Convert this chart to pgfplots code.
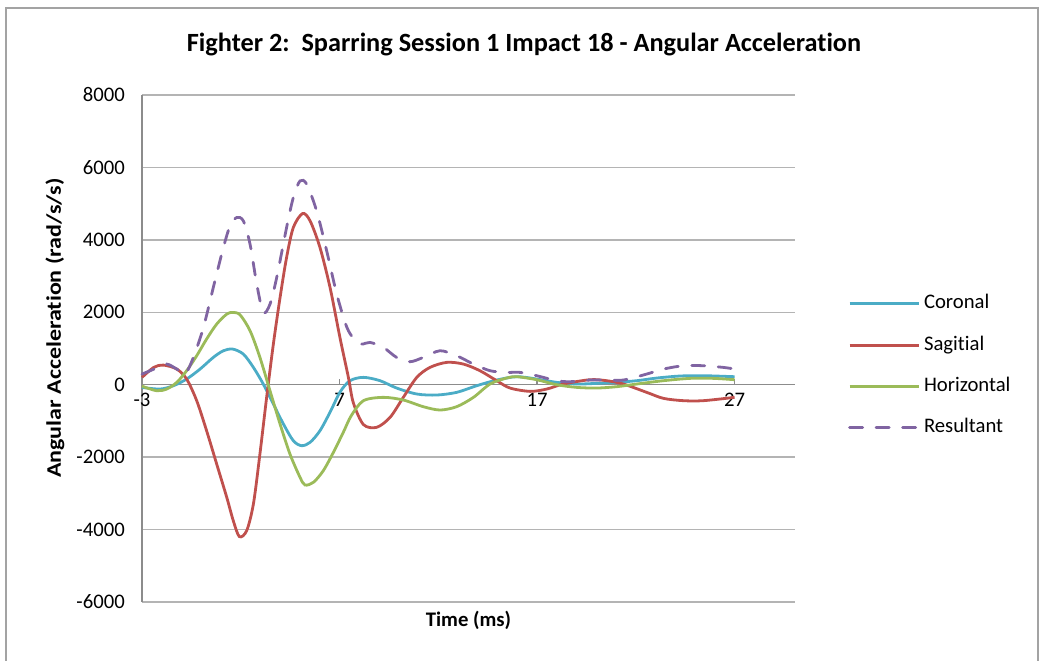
\documentclass[border=0pt]{standalone}
\usepackage{pgfplots}
\pgfplotsset{compat=1.18}
\usepackage{fontspec}
\setmainfont{Carlito}[Ligatures=NoCommon]
\definecolor{cor}{HTML}{4BACC6}
\definecolor{sag}{HTML}{C0504D}
\definecolor{hor}{HTML}{9BBB59}
\definecolor{res}{HTML}{8064A2}
\definecolor{gridc}{HTML}{B4B4B4}
\definecolor{axc}{HTML}{8C8C8C}
\newcommand{\lbl}{\fontsize{20.7bp}{24bp}\selectfont}
\begin{document}
\begin{tikzpicture}[x=1bp,y=1bp]
\useasboundingbox (0,0) rectangle (1040,661);
\draw[axc!80, line width=1.5bp] (6,0) -- (6,653) -- (1038,653) -- (1038,0);
\node[font=\fontsize{26.3bp}{30bp}\selectfont\bfseries] at (524,616) {Fighter 2:\ \ Sparring Session 1 Impact 18 - Angular Acceleration};
\begin{axis}[
  at={(142bp,59bp)}, anchor=south west,
  scale only axis, width=653bp, height=507bp,
  xmin=-3, xmax=30.06, ymin=-6000, ymax=8000,
  axis x line*=middle, axis y line*=left,
  hide obscured x ticks=false,
  axis line style={axc, line width=1.5bp},
  xtick={-3,7,17,27}, xticklabels={-3,7,17,27},
  ytick={-6000,-4000,-2000,0,2000,4000,6000,8000},
  yticklabels={-6000,-4000,-2000,0,2000,4000,6000,8000},
  scaled y ticks=false,
  ymajorgrids, grid style={gridc, line width=1.3bp},
  major tick length=6bp, tick align=center,
  xtick style={axc, line width=1.3bp, yshift=3bp},
  ytick style={draw=none},
  ticklabel style={font=\lbl},
  yticklabel style={inner sep=0pt, xshift=-14bp},
  xticklabel style={inner sep=0pt, yshift=-5bp},
  xlabel={Time (ms)}, ylabel={\scalebox{1.16}[1]{Angular Acceleration (rad/s/s)}},
  label style={font=\lbl\bfseries},
  xlabel style={at={(axis description cs:0.5,-0.0355)}, anchor=center},
  ylabel style={at={(axis description cs:-0.1332,0.54)}, anchor=center},
  legend style={draw=none, fill=none, inner sep=0pt, font=\lbl,
    at={(axis description cs:1.0812,0.6081)}, anchor=north west,
    row sep=21.3bp, column sep=4bp,
    nodes={inner sep=0pt, text height=15bp, text depth=5bp}},
  legend cell align=left,
  legend image code/.code={\draw[#1] (0bp,0bp) -- (69bp,0bp);},
  clip=false,
]
\addplot[cor, line width=2.8bp, smooth] coordinates {
(-3,-74) (-2.09,-120) (-1.41,-28) (-0.74,156) (-0.06,432) (0.61,754) (1.12,938) (1.59,984) (2.13,846) (2.64,478) (3.14,18) (3.65,-534) (4.16,-1086) (4.66,-1546) (5.08,-1684) (5.51,-1592) (6.01,-1270) (6.52,-760) (7.03,-200) (7.53,111) (8.21,203) (9.05,111) (9.89,-92) (10.91,-257) (11.92,-285) (12.93,-211) (13.95,-27) (14.96,129) (15.97,221) (16.98,157) (17.99,65) (19.01,19) (20.02,37) (21.03,65) (22.05,111) (23.06,184) (24.24,240) (25.42,249) (27.0,221)
};
\addlegendentry{Coronal}
\addplot[sag, line width=2.8bp, smooth] coordinates {
(-3,202) (-2.4,480) (-1.92,542) (-1.24,432) (-0.74,156) (-0.23,-442) (0.27,-1270) (0.78,-2189) (1.29,-3109) (1.62,-3753) (1.93,-4194) (2.30,-4029) (2.64,-3293) (2.97,-1913) (3.31,-350) (3.65,1121) (3.99,2409) (4.32,3513) (4.66,4340) (5.13,4727) (5.51,4524) (6.01,3789) (6.52,2685) (7.02,1305) (7.45,200) (7.70,-500) (8.21,-1100) (8.88,-1177) (9.56,-901) (10.23,-349) (10.91,202) (11.58,478) (12.43,617) (13.27,570) (14.11,386) (14.96,110) (15.63,-92) (16.65,-184) (17.49,-120) (18.33,19) (19.68,138) (20.53,110) (21.37,19) (22.55,-211) (23.40,-377) (24.41,-441) (25.42,-441) (27.0,-349)
};
\addlegendentry{Sagitial}
\addplot[hor, line width=2.8bp, smooth] coordinates {
(-3,-40) (-2.26,-166) (-1.75,-120) (-1.24,64) (-0.74,386) (-0.23,800) (0.27,1260) (0.78,1673) (1.29,1949) (1.59,1995) (1.96,1931) (2.47,1490) (2.97,754) (3.48,-166) (3.99,-1086) (4.49,-1913) (5.00,-2557) (5.25,-2769) (5.68,-2695) (6.18,-2373) (6.69,-1868) (7.19,-1316) (7.60,-850) (8.21,-441) (9.22,-349) (10.23,-423) (11.24,-607) (12.09,-699) (12.93,-607) (13.78,-349) (14.62,19) (15.46,184) (15.97,221) (16.98,138) (17.99,0) (19.01,-74) (20.02,-92) (21.03,-55) (22.05,19) (23.40,111) (24.75,175) (25.93,175) (27.0,138)
};
\addlegendentry{Horizontal}
\addplot[res, line width=2.8bp, smooth, line cap=round, dash pattern=on 13bp off 13.5bp] coordinates {
(-3,294) (-2.26,460) (-1.75,570) (-1.24,432) (-0.82,294) (-0.40,754) (0.11,1581) (0.61,2685) (1.12,3789) (1.46,4386) (1.79,4616) (2.13,4524) (2.47,3881) (2.81,2777) (3.14,1995) (3.48,2225) (3.82,2961) (4.32,4340) (4.66,5168) (5.00,5628) (5.34,5536) (5.84,4800) (6.35,3697) (6.86,2501) (7.36,1600) (7.75,1250) (8.12,1122) (8.54,1168) (9.22,1030) (9.89,754) (10.57,635) (11.24,754) (12.09,938) (12.93,800) (13.78,570) (14.62,386) (15.46,340) (16.14,340) (16.98,249) (17.99,111) (18.67,83) (19.68,129) (20.53,129) (21.37,129) (22.55,294) (23.40,432) (24.41,524) (25.42,524) (26.43,478) (27.0,433)
};
\addlegendentry{Resultant}
\end{axis}
\end{tikzpicture}
\end{document}
